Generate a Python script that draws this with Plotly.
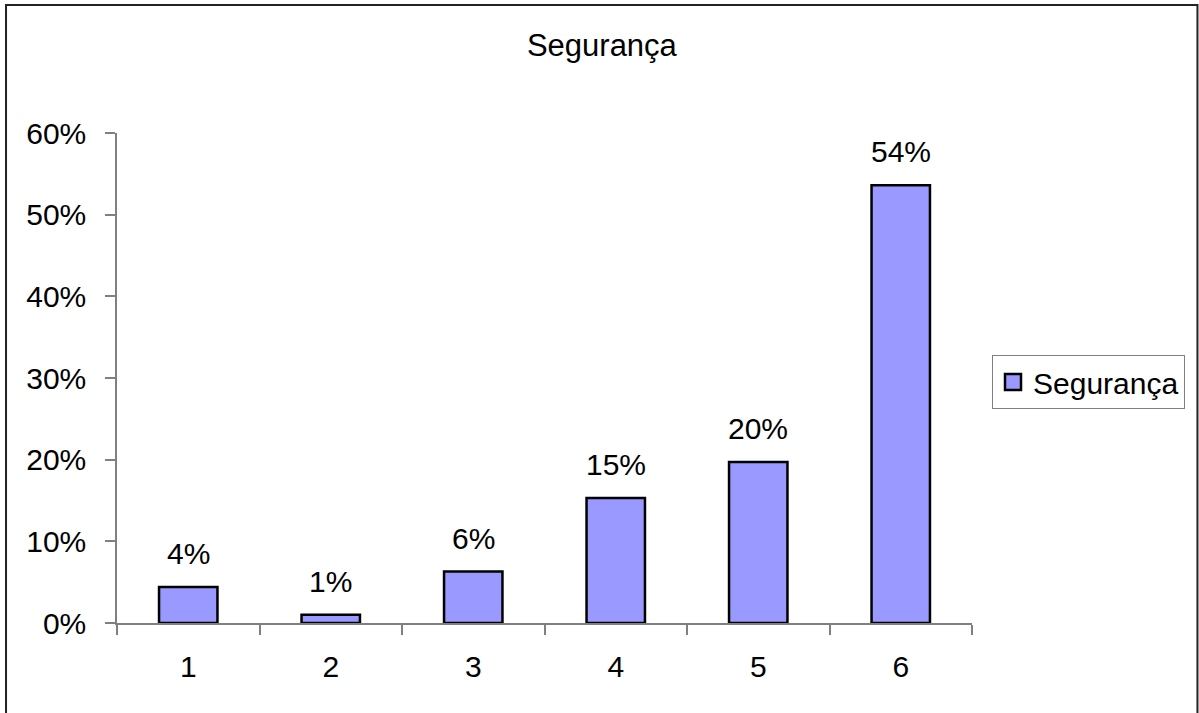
import plotly.graph_objects as go

# Share of responses per rating (1..6)
categories = ["1", "2", "3", "4", "5", "6"]
values = [0.044, 0.010, 0.063, 0.153, 0.197, 0.536]
series_name = "Segurança"
y_ticks = [0.0, 0.1, 0.2, 0.3, 0.4, 0.5, 0.6]

FONT = "Liberation Sans, Arial, sans-serif"
FS = 30
BAR_COLOR = "#9999FF"
AXIS_COLOR = "#808080"

fig = go.Figure()

fig.add_trace(go.Bar(
    x=categories,
    y=values,
    width=0.41,
    marker=dict(color=BAR_COLOR, line=dict(color="#000000", width=2.5)),
    showlegend=False,
    hoverinfo="x+y",
))

# Legend entry with a larger square swatch
fig.add_trace(go.Scatter(
    x=[None], y=[None],
    mode="markers",
    name=series_name,
    marker=dict(symbol="square", size=16, color=BAR_COLOR,
                line=dict(color="#000000", width=2.5)),
    showlegend=True,
))

# Value labels above each bar (x given as category index)
for i, v in enumerate(values):
    fig.add_annotation(
        x=i, y=v, text=f"{v:.0%}",
        showarrow=False, yanchor="bottom", yshift=15,
        font=dict(family=FONT, size=FS, color="#000000"),
    )

# Outer chart frame
fig.add_shape(
    type="rect", xref="paper", yref="paper",
    x0=-0.1298, x1=1.2637, y0=-0.3, y1=1.2612,
    line=dict(color="#222222", width=2), fillcolor="rgba(0,0,0,0)",
    layer="below",
)

fig.update_layout(
    width=1199, height=713,
    margin=dict(l=117, r=227, t=133, b=90),
    paper_bgcolor="#FFFFFF",
    plot_bgcolor="#FFFFFF",
    font=dict(family=FONT, size=FS, color="#000000"),
    title=dict(text=series_name, x=0.502, xref="container", xanchor="center",
               y=1 - 45 / 713, yref="container", yanchor="middle",
               font=dict(family=FONT, size=31, color="#000000")),
    legend=dict(
        x=1.0234, y=0.547, xanchor="left", yanchor="top",
        bordercolor=AXIS_COLOR, borderwidth=1, bgcolor="#FFFFFF",
        font=dict(family=FONT, size=FS, color="#000000"),
        itemwidth=30, tracegroupgap=0,
    ),
    xaxis=dict(
        type="category", range=[-0.5, 5.5],
        showline=True, linecolor=AXIS_COLOR, linewidth=1.5,
        ticks="outside", tickson="boundaries", ticklen=10,
        tickcolor=AXIS_COLOR, tickwidth=1.5,
        ticklabelstandoff=16,
        showgrid=False, zeroline=False,
        tickfont=dict(family=FONT, size=FS, color="#000000"),
    ),
    yaxis=dict(
        range=[0, 0.6], tickvals=y_ticks, tickformat=".0%",
        showline=True, linecolor=AXIS_COLOR, linewidth=1.5,
        ticks="outside", ticklen=10, tickcolor=AXIS_COLOR, tickwidth=1.5,
        ticklabelstandoff=13,
        showgrid=False, zeroline=False,
        tickfont=dict(family=FONT, size=FS, color="#000000"),
    ),
)

fig.write_html("out.html")
